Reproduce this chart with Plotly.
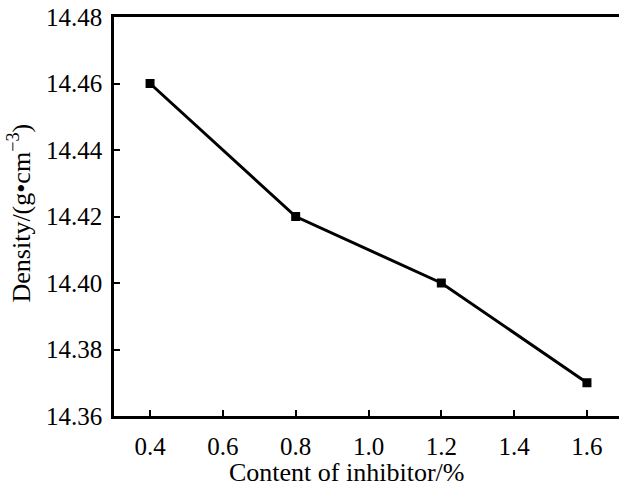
import plotly.graph_objects as go

content = [0.4, 0.8, 1.2, 1.6]
density = [14.46, 14.42, 14.40, 14.37]
x_ticks = [0.4, 0.6, 0.8, 1.0, 1.2, 1.4, 1.6]
x_tick_labels = ["0.4", "0.6", "0.8", "1.0", "1.2", "1.4", "1.6"]
y_ticks = [14.36, 14.38, 14.40, 14.42, 14.44, 14.46, 14.48]
y_tick_labels = ["14.36", "14.38", "14.40", "14.42", "14.44", "14.46", "14.48"]
x_title = "Content of inhibitor/%"
y_title = "Density/(g•cm<sup>−3</sup>)"

FONT = "Liberation Serif, Times New Roman, serif"

fig = go.Figure()
fig.add_trace(go.Scatter(
    x=content, y=density, mode="lines+markers",
    line=dict(color="black", width=3),
    marker=dict(symbol="square", size=9, color="black"),
    showlegend=False,
))

fig.update_layout(
    width=619, height=486,
    margin=dict(l=114, r=0, t=17, b=70),
    paper_bgcolor="white", plot_bgcolor="white",
    font=dict(family=FONT, color="black", size=24),
)
fig.update_xaxes(
    range=[0.301, 1.688],
    tickvals=x_ticks, ticktext=x_tick_labels,
    ticks="inside", ticklen=6, tickwidth=1.5, tickcolor="black",
    showline=True, linecolor="black", linewidth=2.5, mirror=True,
    showgrid=False, zeroline=False,
    ticklabelstandoff=6,
    tickfont=dict(size=25, family=FONT),
)
fig.update_yaxes(
    range=[14.36, 14.48],
    tickvals=y_ticks, ticktext=y_tick_labels,
    ticks="inside", ticklen=6, tickwidth=1.5, tickcolor="black",
    showline=True, linecolor="black", linewidth=2.5,
    showgrid=False, zeroline=False,
    ticklabelstandoff=4,
    tickfont=dict(size=25, family=FONT),
)

fig.add_annotation(
    text=x_title, xref="paper", yref="paper", x=0.5, y=0,
    xanchor="center", yanchor="middle", xshift=-20, yshift=-56, showarrow=False,
    font=dict(size=26, family=FONT, color="black"),
)
fig.add_annotation(
    text=y_title, xref="paper", yref="paper", x=0, y=0.5,
    xanchor="center", yanchor="middle", xshift=-94, yshift=3, textangle=-90,
    showarrow=False, font=dict(size=26, family=FONT, color="black"),
)

fig.write_html("out.html")
